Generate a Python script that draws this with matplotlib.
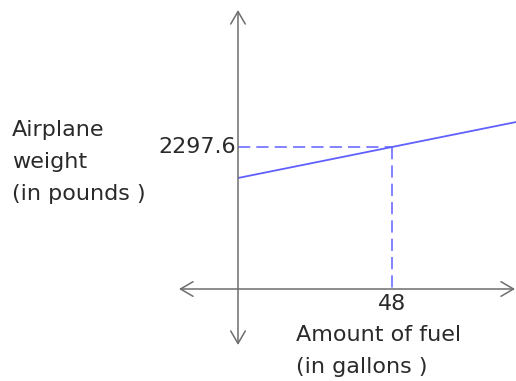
import matplotlib
matplotlib.use("Agg")
import matplotlib.pyplot as plt

# data (fuel in gallons, weight in pounds)
fuel_line = [0, 87]
weight_line = [2000, 2539.4]
fuel_mark = 48
weight_mark = 2297.6

x_label = ["Amount of fuel", "(in gallons )"]
y_label = ["Airplane", "weight", "(in pounds )"]

# pixel mapping of the sketch: x=0 at px 238, 48 gal = 154 px; 2000 lb at py 178, 297.6 lb = 31 px
gpp = 48 / 154.0
wpp = 297.6 / 31.0
def gx(px):
    return (px - 238) * gpp
def wy(py):
    return 2000 - (py - 178) * wpp

fig = plt.figure(figsize=(5.16, 3.81), dpi=100)
ax = fig.add_axes([0, 0, 1, 1])
ax.set_xlim(gx(0), gx(516))
ax.set_ylim(wy(381), wy(0))
ax.axis("off")

axis_col = "#6e6e6e"
blue = "#6060ff"
txt = "#2a2a2a"

# axes with open arrows
x_axis_w = wy(289)
arrow = dict(arrowstyle="<->,head_length=0.6,head_width=0.35", color=axis_col,
             lw=1.1, mutation_scale=15, shrinkA=0, shrinkB=0)
ax.annotate("", xy=(gx(179), x_axis_w), xytext=(gx(515), x_axis_w), arrowprops=arrow)
ax.annotate("", xy=(0, wy(10)), xytext=(0, wy(345)), arrowprops=arrow)

# line
ax.plot(fuel_line, weight_line, color=blue, lw=1.3, solid_capstyle="butt")

# dashed guides
ax.plot([0, fuel_mark], [weight_mark, weight_mark], color=blue, lw=1.1,
        linestyle=(0, (8, 4)))
ax.plot([fuel_mark, fuel_mark], [weight_mark, x_axis_w], color=blue, lw=1.1,
        linestyle=(0, (8, 4)))

fs = 16
ax.text(gx(236), weight_mark, f"{weight_mark}", ha="right", va="center",
        fontsize=fs, color=txt)
ax.text(fuel_mark, wy(304), f"{fuel_mark}", ha="center", va="center",
        fontsize=fs, color=txt)

for i, s in enumerate(y_label):
    ax.text(gx(12), wy(130 + 32 * i), s, ha="left", va="center",
            fontsize=fs, color=txt)
for i, s in enumerate(x_label):
    ax.text(gx(296), wy(335 + 32 * i), s, ha="left", va="center",
            fontsize=fs, color=txt)

fig.savefig("out.png", dpi=100)
